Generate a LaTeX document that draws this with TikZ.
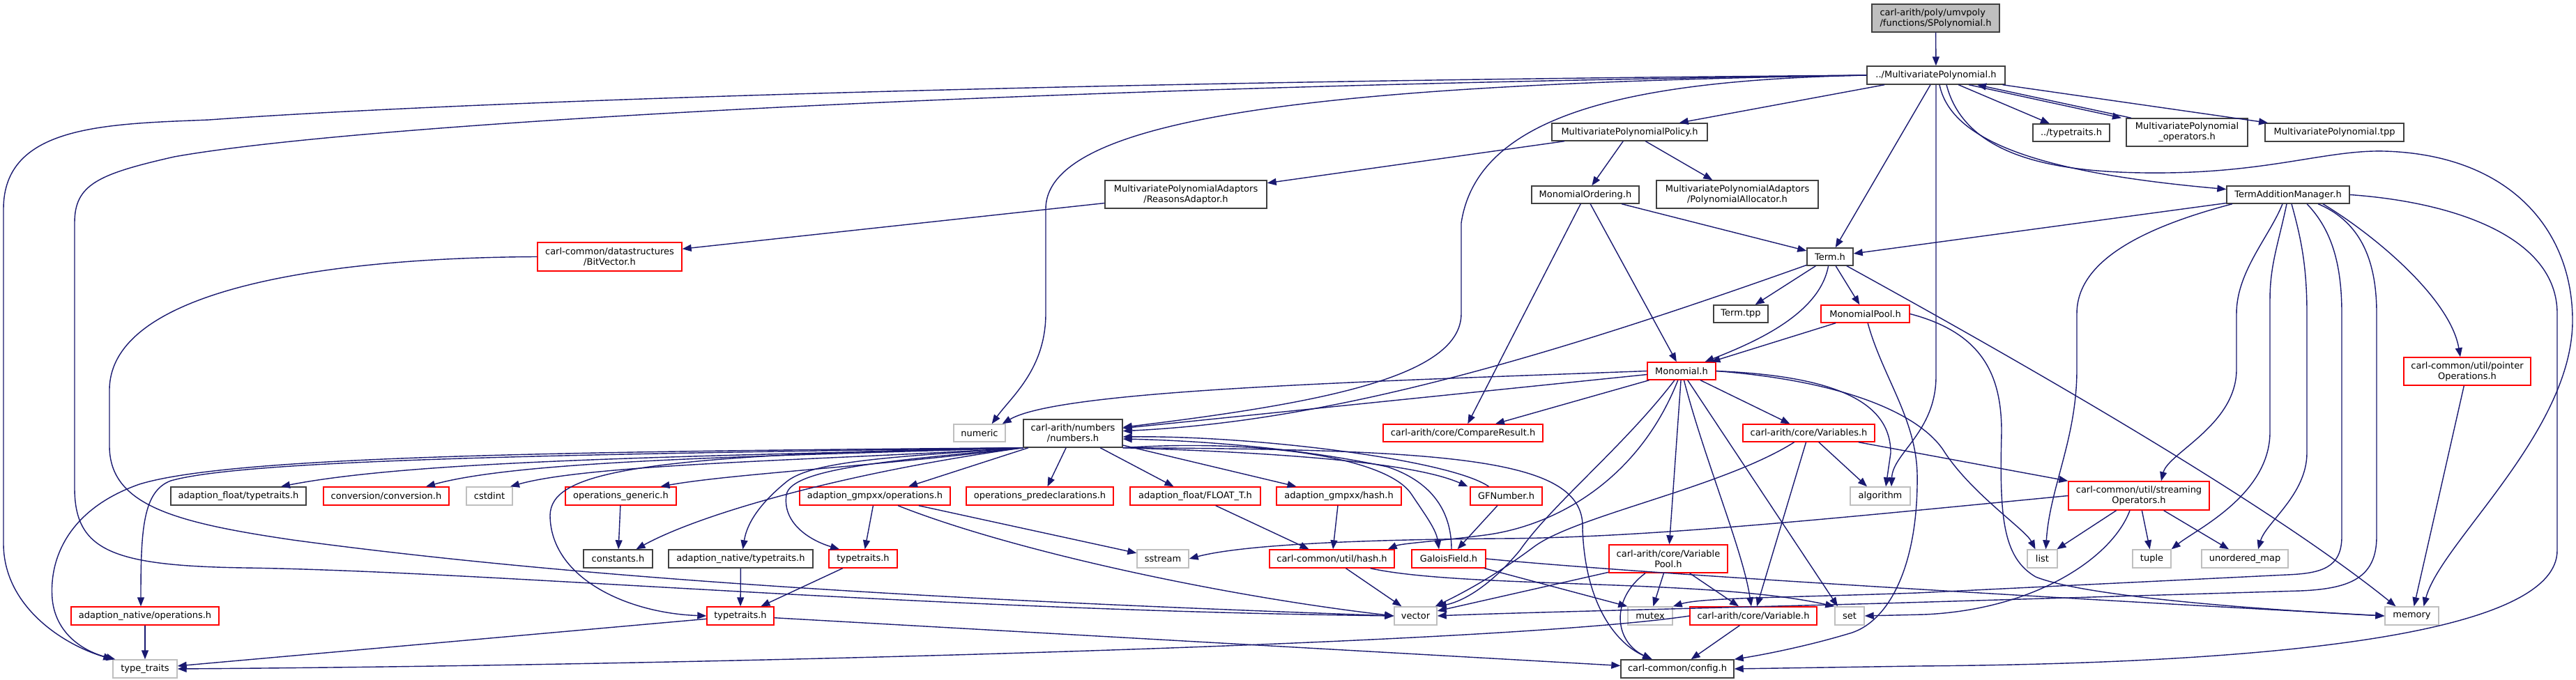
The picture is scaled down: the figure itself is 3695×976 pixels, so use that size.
\documentclass[tikz,border=0pt]{standalone}
\usepackage{fontspec}
\newfontfamily\dvs{DejaVu Sans}
\usetikzlibrary{arrows.meta}
\definecolor{edgec}{HTML}{191970}
\definecolor{blk}{HTML}{404040}
\definecolor{redb}{HTML}{FF0000}
\definecolor{grayb}{HTML}{BFBFBF}
\tikzset{
 nb/.style={draw=blk, line width=1.4pt, fill=white, inner sep=0pt, align=center, font={\dvs\fontsize{13}{15}\selectfont}},
 nr/.style={nb, draw=redb},
 ng/.style={nb, draw=grayb},
 nroot/.style={nb, fill=grayb},
 sz/.style 2 args={minimum width=#1pt, minimum height=#2pt},
 conn/.style={draw=edgec, line width=1.4pt, -{Triangle[length=13pt,width=10pt]}},
}
\begin{document}
\begin{tikzpicture}[x=1pt,y=-1pt]
\fill[white] (0,0) rectangle (3695,976);
\useasboundingbox (0,0) rectangle (3695,976);
% nodes
\node[nroot,sz={183}{40},align=left] (root) at (2776.5,26) {carl-arith/poly/umvpoly\\/functions/SPolynomial.h};
\node[nb,sz={198}{26}] (MP) at (2777,108) {../MultivariatePolynomial.h};
\node[nb,sz={223}{25}] (policy) at (2337.5,189.5) {MultivariatePolynomialPolicy.h};
\node[nb,sz={232}{40}] (reasons) at (1701,279) {MultivariatePolynomialAdaptors\\/ReasonsAdaptor.h};
\node[nb,sz={154}{25}] (mord) at (2274,279.5) {MonomialOrdering.h};
\node[nb,sz={232}{40}] (alloc) at (2492,279) {MultivariatePolynomialAdaptors\\/PolynomialAllocator.h};
\node[nb,sz={110}{25}] (tt) at (2971,190.5) {../typetraits.h};
\node[nb,sz={174}{40}] (ops) at (3137,190) {MultivariatePolynomial\\\_operators.h};
\node[nb,sz={199}{26}] (tpp) at (3348.5,190) {MultivariatePolynomial.tpp};
\node[nb,sz={176}{25}] (tam) at (3282,279.5) {TermAdditionManager.h};
\node[nr,sz={207}{41}] (bitvec) at (874.5,368.5) {carl-common/datastructures\\/BitVector.h};
\node[ng,sz={74}{25}] (numeric) at (1405,621.5) {numeric};
\node[nb,sz={142}{40}] (numbers) at (1539,622) {carl-arith/numbers\\/numbers.h};
\node[nb,sz={66}{25}] (term) at (2625,368.5) {Term.h};
\node[nb,sz={78}{25}] (termtpp) at (2497,450.5) {Term.tpp};
\node[nr,sz={127}{25}] (mpool) at (2675.5,450.5) {MonomialPool.h};
\node[nr,sz={98}{25}] (mono) at (2412,532.5) {Monomial.h};
\node[nr,sz={229}{25}] (cmp) at (2098.5,621.5) {carl-arith/core/CompareResult.h};
\node[nr,sz={189}{25}] (vars) at (2594.5,621.5) {carl-arith/core/Variables.h};
\node[nr,sz={182}{40}] (ptrops) at (3539,533) {carl-common/util/pointer\\Operations.h};
\node[nb,sz={194}{26}] (aftt) at (342,712) {adaption\_float/typetraits.h};
\node[nr,sz={180}{26}] (conv) at (554,712) {conversion/conversion.h};
\node[ng,sz={66}{26}] (cstdint) at (702,712) {cstdint};
\node[nr,sz={159}{26}] (opgen) at (890.5,712) {operations\_generic.h};
\node[nb,sz={99}{26}] (constants) at (886.5,802) {constants.h};
\node[nr,sz={212}{26}] (anops) at (208,884) {adaption\_native/operations.h};
\node[ng,sz={92}{26}] (typetr) at (208,960) {type\_traits};
\node[nr,sz={216}{26}] (agops) at (1255,712) {adaption\_gmpxx/operations.h};
\node[nr,sz={211}{26}] (oppre) at (1491.5,712) {operations\_predeclarations.h};
\node[nr,sz={187}{26}] (floatt) at (1714.5,712) {adaption\_float/FLOAT\_T.h};
\node[nb,sz={207}{26}] (antt) at (1062.5,802) {adaption\_native/typetraits.h};
\node[nr,sz={98}{26}] (ttup) at (1238,802) {typetraits.h};
\node[ng,sz={74}{26}] (sstream) at (1668,802) {sstream};
\node[nr,sz={96}{26}] (ttlow) at (1062,884) {typetraits.h};
\node[nr,sz={179}{26}] (aghash) at (1920.5,712) {adaption\_gmpxx/hash.h};
\node[nr,sz={103}{26}] (gfn) at (2160.5,712) {GFNumber.h};
\node[nr,sz={179}{26}] (uhash) at (1910.5,802) {carl-common/util/hash.h};
\node[nr,sz={106}{26}] (gf) at (2078,802) {GaloisField.h};
\node[nr,sz={170}{40}] (vpool) at (2393,802) {carl-arith/core/Variable\\Pool.h};
\node[ng,sz={61}{26}] (vector) at (2030.5,884) {vector};
\node[ng,sz={64}{26}] (mutex) at (2367,884) {mutex};
\node[nr,sz={182}{26}] (variable) at (2515,884) {carl-arith/core/Variable.h};
\node[ng,sz={42}{26}] (set) at (2653,884) {set};
\node[nb,sz={162}{26}] (config) at (2406,960) {carl-common/config.h};
\node[ng,sz={86}{26}] (algorithm) at (2697,712) {algorithm};
\node[nr,sz={202}{41}] (stream) at (3068,711.5) {carl-common/util/streaming\\Operators.h};
\node[ng,sz={43}{26}] (list) at (2929.5,802) {list};
\node[ng,sz={55}{26}] (tuple) at (3086.5,802) {tuple};
\node[ng,sz={124}{26}] (umap) at (3220,802) {unordered\_map};
\node[ng,sz={77}{26}] (memory) at (3459.5,884) {memory};
% edges: root and MP
\draw[conn] (root) -- (MP);
\draw[conn] (MP) -- (policy);
\draw[conn] (MP) -- (tt);
\draw[conn] ([xshift=47]MP.south) -- ([xshift=-94]ops.north);
\draw[conn] ([xshift=-80]ops.north) -- ([xshift=59]MP.south);
\draw[conn] (MP) -- (tpp);
\draw[conn] ([xshift=5]MP.south) .. controls (2800,210) and (2950,250) .. (tam);
\draw[conn] (MP) -- (term);
\draw[conn] (MP.west) .. controls (2350,115) and (2120,160) .. (2096,320) -- (2096,450) .. controls (2096,540) and (1900,578) .. (numbers);
\draw[conn] (MP.west) .. controls (1950,120) and (1500,160) .. (1500,300) -- (1500,450) .. controls (1500,530) and (1450,570) .. ([xshift=-20]numeric.north east);
\draw[conn] (MP.west) .. controls (1400,118) and (600,150) .. (300,172) .. controls (150,178) and (5,180) .. (5,300) -- (5,780) .. controls (5,870) and (90,925) .. (typetr.north west);
\draw[conn] (MP.west) .. controls (1400,125) and (500,180) .. (250,225) .. controls (140,250) and (107,265) .. (107,320) -- (107,700) .. controls (107,790) and (160,812) .. (350,815) .. controls (700,820) and (1300,875) .. (vector.west);
\draw[conn] (MP.south) -- (2777,540) .. controls (2777,620) and (2715,650) .. ([xshift=16]algorithm.north);
\draw[conn] ([xshift=15]MP.south) .. controls (2820,230) and (2960,250) .. (3110,248) .. controls (3260,246) and (3340,215) .. (3420,217) .. controls (3600,222) and (3690,330) .. (3690,460) .. controls (3690,620) and (3500,780) .. ([xshift=17]memory.north);
% policy
\draw[conn] (policy) -- (reasons);
\draw[conn] (policy) -- (mord);
\draw[conn] (policy) -- (alloc);
\draw[conn] (reasons) -- (bitvec);
\draw[conn] (bitvec.west) .. controls (450,370) and (157,420) .. (157,560) -- (157,640) .. controls (157,725) and (250,750) .. (420,775) .. controls (900,840) and (1500,866) .. (vector.west);
% ordering
\draw[conn] (mord) -- (term);
\draw[conn] (mord) -- (mono);
\draw[conn] (mord) -- (cmp);
% term
\draw[conn] (term) .. controls (2200,520) and (1900,605) .. (numbers);
\draw[conn] (term) -- (termtpp);
\draw[conn] (term) .. controls (2610,450) and (2520,490) .. (mono);
\draw[conn] (term) -- (mpool);
\draw[conn] (term) .. controls (2900,520) and (3250,720) .. ([xshift=-23]memory.north);
% term addition manager
\draw[conn] (tam) -- (term);
\draw[conn] ([xshift=-80]tam.south) .. controls (3060,330) and (2979,380) .. (2979,450) -- (2979,530) .. controls (2979,630) and (2940,700) .. ([xshift=5]list.north);
\draw[conn] ([xshift=-8]tam.south) .. controls (3255,340) and (3208,390) .. (3208,450) -- (3208,530) .. controls (3208,610) and (3110,650) .. ([xshift=32]stream.north);
\draw[conn] ([xshift=-2]tam.south) .. controls (3268,350) and (3256,380) .. (3256,430) -- (3256,620) .. controls (3256,710) and (3150,760) .. (tuple.north east);
\draw[conn] ([xshift=5]tam.south) .. controls (3300,340) and (3309,380) .. (3309,450) -- (3309,650) .. controls (3309,710) and (3250,750) .. ([xshift=19]umap.north);
\draw[conn] ([xshift=27]tam.south) .. controls (3345,330) and (3359,380) .. (3359,450) -- (3359,770) .. controls (3359,815) and (3330,823) .. (3280,825) -- (2750,851) .. controls (2550,858) and (2440,858) .. (mutex.north east);
\draw[conn] ([xshift=43]tam.south) .. controls (3390,320) and (3409,380) .. (3409,450) -- (3409,770) .. controls (3409,830) and (3370,845) .. (3300,848) -- (2700,866) .. controls (2400,874) and (2150,880) .. (vector.east);
\draw[conn] ([xshift=50]tam.south) .. controls (3410,340) and (3515,430) .. ([xshift=-10]ptrops.north);
\draw[conn] (tam.east) .. controls (3520,290) and (3668,340) .. (3668,450) -- (3668,790) .. controls (3668,905) and (3300,952) .. (2750,956) -- (config.east);
\draw[conn] (ptrops) -- (memory);
% monomial pool
\draw[conn] (mpool) -- (mono);
\draw[conn] (mpool.east) .. controls (2845,478) and (2871,540) .. (2871,620) .. controls (2868,740) and (2872,800) .. (2920,828) .. controls (3000,860) and (3300,878) .. (memory.west);
\draw[conn] (mpool) .. controls (2700,540) and (2748,600) .. (2750,680) .. controls (2752,810) and (2710,895) .. (2650,910) .. controls (2600,925) and (2540,938) .. (config.north east);
% monomial
\draw[conn] (mono.west) .. controls (1950,548) and (1520,560) .. ([xshift=-5]numeric.north east);
\draw[conn] (mono) -- (numbers);
\draw[conn] (mono) -- (cmp);
\draw[conn] (mono) -- (vars);
\draw[conn] (mono) .. controls (2330,640) and (2225,725) .. (2180,790) .. controls (2130,850) and (2090,865) .. (vector.north east);
\draw[conn] (mono) .. controls (2350,690) and (2230,755) .. (2130,768) .. controls (2060,777) and (2010,780) .. ([xshift=-10]uhash.north east);
\draw[conn] (mono) -- (vpool);
\draw[conn] (mono) .. controls (2445,660) and (2500,790) .. ([xshift=-3]variable.north);
\draw[conn] (mono) -- ([xshift=-17]set.north);
\draw[conn] (mono.east) .. controls (2640,540) and (2712,580) .. (2712,650) -- ([xshift=8]algorithm.north);
\draw[conn] (mono.east) .. controls (2660,548) and (2760,600) .. (2790,650) .. controls (2830,710) and (2905,760) .. ([xshift=-10]list.north);
% variables
\draw[conn] (vars) .. controls (2470,700) and (2260,740) .. (2200,785) .. controls (2140,830) and (2090,855) .. ([xshift=-3]vector.north east);
\draw[conn] (vars) -- ([xshift=5]variable.north);
\draw[conn] (vars) -- ([xshift=-19]algorithm.north);
\draw[conn] (vars) -- (stream.north west);
% streaming operators
\draw[conn] (stream) -- (list);
\draw[conn] (stream) -- (tuple);
\draw[conn] (stream) -- (umap);
\draw[conn] (stream.west) .. controls (2620,745) and (2360,772) .. (2150,773) .. controls (1900,775) and (1770,785) .. (sstream.east);
\draw[conn] ([xshift=-13]stream.south) .. controls (3030,800) and (2920,875) .. (2760,882) -- (set.east);
% variable pool / variable
\draw[conn] (vpool) -- (vector);
\draw[conn] ([xshift=-33]vpool.south) .. controls (2310,860) and (2315,920) .. ([xshift=-37]config.north);
\draw[conn] (vpool) -- (mutex);
\draw[conn] (vpool) -- ([xshift=-21]variable.north);
\draw[conn] (variable) -- (config);
\draw[conn] (variable.west) .. controls (2150,925) and (1000,955) .. (typetr.east);
% numbers, to the left
\draw[conn] (numbers.south west) .. controls (800,648) and (330,655) .. (200,695) .. controls (100,730) and (70,800) .. (75,860) .. controls (80,910) and (120,935) .. ([xshift=4]typetr.north west);
\draw[conn] (numbers.south west) .. controls (800,652) and (350,660) .. (245,690) .. controls (205,705) and (202,760) .. ([xshift=-6]anops.north);
\draw[conn] (numbers.south west) .. controls (1000,655) and (600,660) .. ([xshift=61]aftt.north);
\draw[conn] (numbers.south west) .. controls (1100,655) and (750,660) .. ([xshift=57]conv.north);
\draw[conn] (numbers.south west) .. controls (1200,660) and (850,665) .. ([xshift=30]cstdint.north);
\draw[conn] (numbers.south west) .. controls (900,652) and (790,680) .. (789,740) .. controls (790,830) and (900,880) .. (ttlow.west);
\draw[conn] (numbers.south west) .. controls (1250,670) and (1050,680) .. ([xshift=57]opgen.north);
\draw[conn] (numbers.south west) .. controls (1200,680) and (1000,740) .. ([xshift=26]constants.north);
\draw[conn] (numbers.south west) .. controls (1300,655) and (1170,660) .. (1130,690) .. controls (1080,730) and (1070,760) .. ([xshift=3]antt.north);
\draw[conn] (numbers.south west) .. controls (1300,660) and (1135,670) .. (1128,710) .. controls (1122,750) and (1160,775) .. ([xshift=-34]ttup.north);
% numbers, down and right
\draw[conn] (numbers) -- ([xshift=48]agops.north);
\draw[conn] (numbers) -- ([xshift=11]oppre.north);
\draw[conn] (numbers) -- ([xshift=-31]floatt.north);
\draw[conn] (numbers) -- ([xshift=-61]aghash.north);
\draw[conn] (numbers.south east) .. controls (1850,650) and (2030,665) .. ([xshift=-55]gfn.north);
\draw[conn] ([xshift=-25]gfn.north) .. controls (2080,660) and (1800,625) .. ([yshift=-5]numbers.east);
\draw[conn] (numbers.south east) .. controls (1800,630) and (1990,655) .. (2025,710) .. controls (2045,740) and (2060,760) .. ([xshift=-14]gf.north);
\draw[conn] ([xshift=4]gf.north) .. controls (2082,730) and (2050,690) .. (1990,670) .. controls (1850,640) and (1700,632) .. ([yshift=-8]numbers.east);
\draw[conn] (numbers.south east) .. controls (2100,645) and (2275,660) .. (2270,760) .. controls (2274,870) and (2320,925) .. ([xshift=-36]config.north);
% number types
\draw[conn] (gfn) -- (gf);
\draw[conn] (gf) -- (mutex.north west);
\draw[conn] (gf.east) .. controls (2400,828) and (3200,872) .. (memory.west);
\draw[conn] (uhash) -- (vector);
\draw[conn] ([xshift=55]uhash.south) .. controls (2100,845) and (2450,830) .. (set.north west);
\draw[conn] (aghash) -- (uhash);
\draw[conn] (floatt) -- ([xshift=-33]uhash.north);
\draw[conn] (agops) -- (ttup);
\draw[conn] (agops) -- (sstream);
\draw[conn] ([xshift=33]agops.south) .. controls (1450,790) and (1750,855) .. (vector.west);
\draw[conn] (antt) -- (ttlow);
\draw[conn] (ttup) -- (ttlow);
\draw[conn] (ttlow) -- (typetr);
\draw[conn] (ttlow) -- (config);
\draw[conn] (opgen) -- (constants);
\draw[conn] (anops) -- (typetr);
\end{tikzpicture}
\end{document}
